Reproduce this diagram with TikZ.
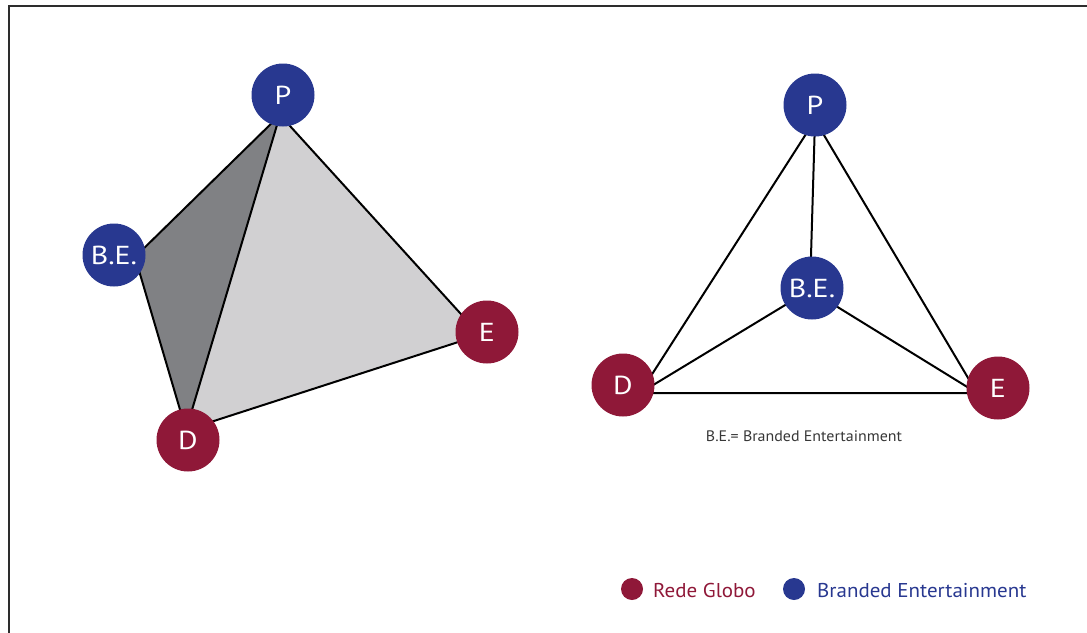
\documentclass[tikz,border=0pt]{standalone}
\usepackage{fontspec}
\setmainfont{PT Sans}
\newfontfamily\vertexfont[FakeStretch=1.15]{PT Sans}
\newfontfamily\widefont[FakeStretch=1.05]{PT Sans}
\definecolor{globored}{RGB}{143,24,56}
\definecolor{beblue}{RGB}{40,56,144}
\definecolor{facedark}{RGB}{128,129,132}
\definecolor{facelight}{RGB}{209,208,210}
\definecolor{framegray}{RGB}{45,45,45}
\definecolor{notegray}{RGB}{55,55,55}
\begin{document}
\begin{tikzpicture}[x=1pt,y=-1pt,
  vertex/.style={circle, minimum size=63pt, inner sep=0pt, text=white,
    font=\vertexfont\fontsize{26}{26}\selectfont},
  bevertex/.style={vertex, fill=beblue},
  rgvertex/.style={vertex, fill=globored},
  edge/.style={line width=2pt, black, line join=round},
  keydot/.style={circle, minimum size=22pt, inner sep=0pt},
  keytext/.style={anchor=base west, inner sep=0pt, font=\widefont\fontsize{20}{20}\selectfont}]
\useasboundingbox (0,0) rectangle (1087,632);
% frame, open to the right and bottom
\draw[line width=2.4pt, framegray] (9,640) -- (9,6) -- (1095,6);

% --- left: tetrahedron with shaded faces ---
\coordinate (lp) at (280,115);
\coordinate (lb) at (135,257);
\coordinate (ld) at (186,430);
\coordinate (le) at (480,335);
\fill[facedark] (lp) -- (lb) -- (ld) -- cycle;
\fill[facelight] (lp) -- (ld) -- (le) -- cycle;
\draw[edge] (lp) -- (lb) -- (ld) -- (le) -- cycle;
\draw[edge] (lp) -- (ld);
\node[bevertex] (P1) at (283,95) {P};
\node[bevertex] (BE1) at (114,255) {B.E.};
\node[rgvertex] (D1) at (188,440) {D};
\node[rgvertex] (E1) at (487,332) {E};

% --- right: tetrahedron seen from above ---
\coordinate (rp) at (815,120);
\coordinate (rb) at (810,290);
\coordinate (rd) at (640,393);
\coordinate (re) at (977,393);
\draw[edge] (rp) -- (rd) -- (re) -- cycle;
\draw[edge] (rp) -- (rb);
\draw[edge] (rb) -- (rd);
\draw[edge] (rb) -- (re);
\node[bevertex] (P2) at (815,105) {P};
\node[bevertex] (BE2) at (812,288) {B.E.};
\node[rgvertex] (D2) at (623,385) {D};
\node[rgvertex] (E2) at (998,388) {E};
\node[anchor=base, inner sep=0pt, text=notegray, font=\widefont\fontsize{15.2}{15.2}\selectfont]
  (note) at (804,441) {B.E.= Branded Entertainment};

% --- legend ---
\node[keydot, fill=globored] (k1) at (632,589) {};
\node[keytext, text=globored] (k1t) at (653,597) {Rede Globo};
\node[keydot, fill=beblue] (k2) at (794,589) {};
\node[keytext, text=beblue] (k2t) at (817,597) {Branded Entertainment};
\end{tikzpicture}
\end{document}
